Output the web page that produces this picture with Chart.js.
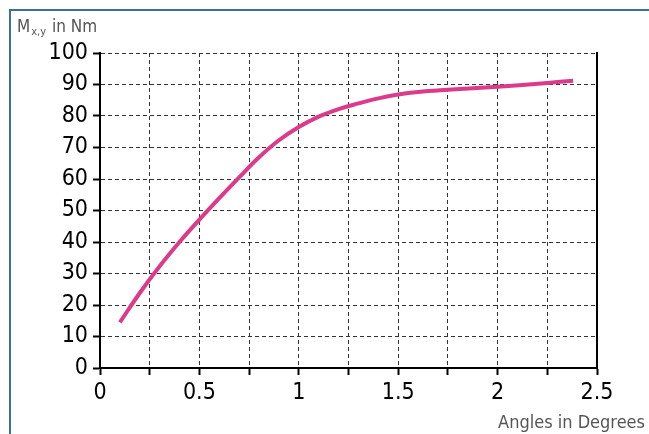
<!DOCTYPE html>
<html>
<head>
<meta charset="utf-8">
<script src="https://cdn.jsdelivr.net/npm/chart.js@4.4.1/dist/chart.umd.min.js"></script>
<style>
  html, body { margin: 0; padding: 0; background: #fff; }
  #wrap { position: relative; width: 649px; height: 434px; overflow: hidden; }
  #frame { position: absolute; left: 9px; top: 9px; width: 700px; height: 500px;
           border-left: 2px solid #3f6f99; border-top: 2px solid #3f6f99; box-sizing: border-box; }
  canvas { position: absolute; left: 0; top: 0; }
</style>
</head>
<body>
<div id="wrap">
  <div id="frame"></div>
  <canvas id="c" width="649" height="434"></canvas>
</div>
<script>
const angles = [0.1, 0.2, 0.3, 0.4, 0.5, 0.6, 0.7, 0.8, 0.9, 1.0, 1.1, 1.2, 1.3, 1.4, 1.5, 1.6, 1.75, 2.0, 2.25, 2.38];
const moments = [14.5, 23.8, 32.3, 40.0, 47.1, 53.9, 60.5, 66.9, 72.3, 76.5, 79.8, 82.2, 84.0, 85.6, 86.8, 87.6, 88.3, 89.3, 90.5, 91.2];
const xTickLabels = ['0', '0.5', '1', '1.5', '2', '2.5'];
const yTitle = ['M', 'x,y', ' in Nm'];
const xTitle = 'Angles in Degrees';

const FONT = '"Liberation Sans Narrow", "DejaVu Sans Condensed", "Open Sans", sans-serif';

const titlePlugin = {
  id: 'titles',
  afterDraw(chart) {
    const ctx = chart.ctx;
    ctx.save();
    ctx.fillStyle = '#555';
    ctx.textBaseline = 'alphabetic';
    let x = 17, y = 32;
    ctx.font = '17px ' + FONT;
    ctx.fillText(yTitle[0], x, y);
    x += ctx.measureText(yTitle[0]).width + 1;
    ctx.font = '11px ' + FONT;
    ctx.fillText(yTitle[1], x, y + 3);
    x += ctx.measureText(yTitle[1]).width + 1;
    ctx.font = '17px ' + FONT;
    ctx.fillText(yTitle[2], x, y);
    ctx.textAlign = 'right';
    ctx.font = '18px ' + FONT;
    ctx.fillText(xTitle, 645, 428);
    ctx.restore();
  }
};

new Chart(document.getElementById('c'), {
  type: 'scatter',
  data: {
    datasets: [{
      data: angles.map((a, i) => ({ x: a, y: moments[i] })),
      showLine: true,
      borderColor: '#dc3a8a',
      borderWidth: 4,
      pointRadius: 0,
      tension: 0.4,
      fill: false
    }]
  },
  options: {
    responsive: false,
    animation: false,
    devicePixelRatio: 1,
    layout: { padding: { left: 0, top: 53, right: 52, bottom: 0 } },
    plugins: { legend: { display: false }, tooltip: { enabled: false } },
    scales: {
      x: {
        type: 'linear', min: 0, max: 2.5,
        afterFit(s) { s.height = 66; },
        ticks: {
          stepSize: 0.25, autoSkip: false, maxRotation: 0, padding: 4,
          color: '#000', font: { family: FONT, size: 23 },
          callback(v) {
            const k = Math.round(v * 4);
            return k % 2 === 0 ? xTickLabels[k / 2] : '';
          }
        },
        grid: { color: '#333', lineWidth: 1, tickLength: 7, tickColor: '#000', tickWidth: 2, tickBorderDash: [] },
        border: { color: '#000', width: 2, dash: [4, 3] }
      },
      y: {
        type: 'linear', min: 0, max: 100,
        afterFit(s) { s.width = 100; },
        ticks: {
          stepSize: 10, padding: 5, color: '#000',
          font: { family: FONT, size: 23 }
        },
        grid: { color: '#333', lineWidth: 1, tickLength: 7, tickColor: '#000', tickWidth: 2, tickBorderDash: [] },
        border: { color: '#000', width: 2, dash: [4, 3] }
      },
      y2: {
        type: 'linear', position: 'right', min: 0, max: 100,
        afterFit(s) { s.width = 0; },
        ticks: { display: false },
        grid: { drawOnChartArea: false, drawTicks: false },
        border: { color: '#000', width: 2 }
      }
    }
  },
  plugins: [titlePlugin]
});
</script>
</body>
</html>
